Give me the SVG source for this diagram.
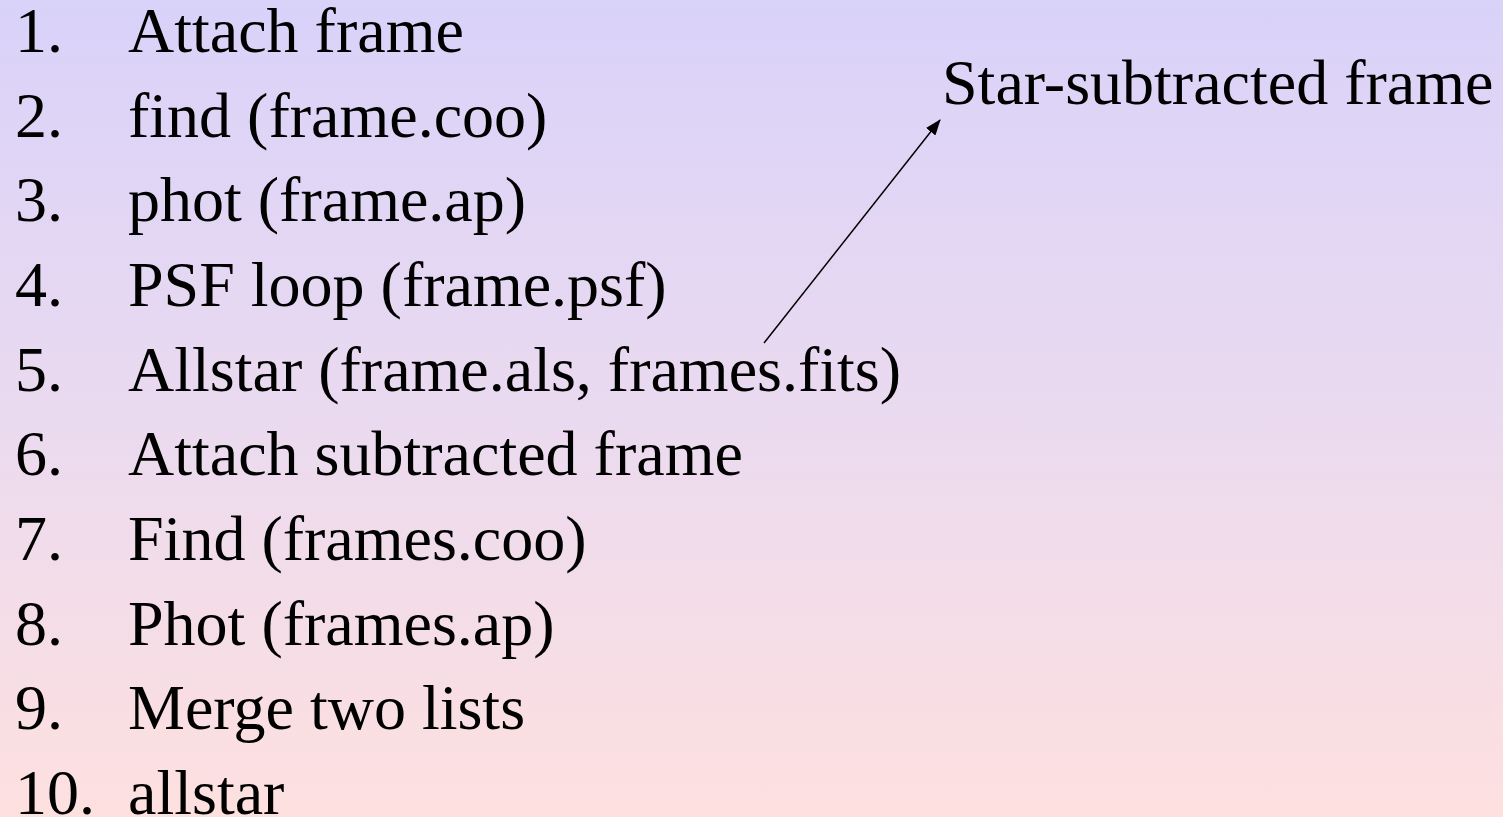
<svg xmlns="http://www.w3.org/2000/svg" width="1503" height="817" viewBox="0 0 1503 817">
<style>
text{font-family:"Liberation Serif","Times New Roman",serif;font-size:64px;fill:#000}
.conn{stroke:#000;stroke-width:1.5;fill:none}
</style>
<defs>
<linearGradient id="bg" x1="0" y1="0" x2="0" y2="1">
<stop offset="0" stop-color="#d9d2f9"/>
<stop offset="0.5" stop-color="#eadaf0"/>
<stop offset="1" stop-color="#fee0df"/>
</linearGradient>
<marker id="ah" viewBox="0 0 16 12" refX="15" refY="6" markerWidth="16" markerHeight="12" markerUnits="userSpaceOnUse" orient="auto">
<path d="M0,0 L16,6 L0,12 z" fill="#000"/>
</marker>
</defs>
<rect width="1503" height="817" fill="url(#bg)"/>
<g id="list">
<g id="item1"><text x="15" y="52">1.</text><text x="128" y="52">Attach frame</text></g>
<g id="item2"><text x="15" y="137">2.</text><text x="128" y="137">find (frame.coo)</text></g>
<g id="item3"><text x="15" y="221">3.</text><text x="128" y="221">phot (frame.ap)</text></g>
<g id="item4"><text x="15" y="306">4.</text><text x="128" y="306">PSF loop (frame.psf)</text></g>
<g id="item5"><text x="15" y="391">5.</text><text x="128" y="391">Allstar (frame.als, frames.fits)</text></g>
<g id="item6"><text x="15" y="475">6.</text><text x="128" y="475">Attach subtracted frame</text></g>
<g id="item7"><text x="15" y="560">7.</text><text x="128" y="560">Find (frames.coo)</text></g>
<g id="item8"><text x="15" y="645">8.</text><text x="128" y="645">Phot (frames.ap)</text></g>
<g id="item9"><text x="15" y="729">9.</text><text x="128" y="729">Merge two lists</text></g>
<g id="item10"><text x="15" y="814">10.</text><text x="128" y="814">allstar</text></g>
</g>
<g id="label"><text x="942" y="104">Star-subtracted frame</text></g>
<g id="connectors">
<line class="conn" x1="764" y1="343" x2="940" y2="120" marker-end="url(#ah)"/>
</g>
</svg>
